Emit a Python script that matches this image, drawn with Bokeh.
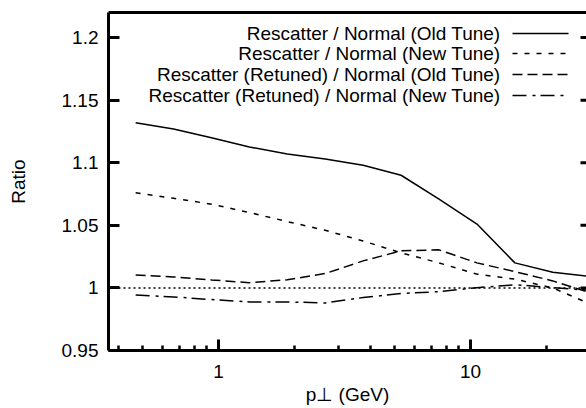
import math
from bokeh.plotting import figure
from bokeh.models import (FixedTicker, CustomJSTickFormatter, LogAxis,
                          Span, Label, Range1d)
from bokeh.embed import file_html
from bokeh.resources import INLINE

# ---- data ----
pt = [0.469, 0.663, 0.9375, 1.326, 1.875, 2.652, 3.75, 5.303, 7.5, 10.61, 15.0, 21.21, 30.0]
old_tune = [1.132, 1.127, 1.120, 1.1126, 1.107, 1.103, 1.098, 1.090, 1.071, 1.051, 1.020, 1.0125, 1.009]
new_tune = [1.076, 1.0716, 1.0669, 1.0602, 1.053, 1.046, 1.0375, 1.028, 1.020, 1.011, 1.007, 1.000, 0.987]
retuned_old = [1.0104, 1.0088, 1.0064, 1.0042, 1.0065, 1.0115, 1.0216, 1.0296, 1.0304, 1.020, 1.013, 1.0056, 0.996]
retuned_new = [0.9944, 0.9928, 0.9907, 0.9888, 0.9888, 0.988, 0.9923, 0.9955, 0.997, 1.0002, 1.0025, 1.0003, 0.998]

series_labels = ["Rescatter / Normal (Old Tune)",
                 "Rescatter / Normal (New Tune)",
                 "Rescatter (Retuned) / Normal (Old Tune)",
                 "Rescatter (Retuned) / Normal (New Tune)"]
y_ticks = [0.95, 1.0, 1.05, 1.1, 1.15, 1.2]
x_ticks = [1, 10]
x_minor = [0.4, 0.5, 0.6, 0.7, 0.8, 0.9, 2, 3, 4, 5, 6, 7, 8, 9, 20]
x_title = "p\u22a5 (GeV)"
y_title = "Ratio"

# ---- layout ----
W, H = 586, 408
FL, FR, FT, FB = 108, 586, 12, 350
XS, XE = 0.366, 28.86
YS, YE = 0.95, 1.22
FONT = "Liberation Sans"
FS = "19px"

def px_x(px):
    a, b = math.log10(XS), math.log10(XE)
    return 10 ** (a + (px - FL) / (FR - FL) * (b - a))

def px_y(py):
    return YS + (FB - py) / (FB - FT) * (YE - YS)

p = figure(width=W, height=H, x_axis_type="log",
           x_range=Range1d(XS, XE), y_range=Range1d(YS, YE),
           output_backend="svg", toolbar_location=None,
           min_border_left=FL, min_border_right=0, min_border_top=FT,
           min_border_bottom=H - FB)
p.outline_line_color = None
p.grid.visible = False
p.background_fill_color = "white"
p.border_fill_color = "white"

# bottom axis
xa = p.xaxis[0]
xa.ticker = FixedTicker(ticks=x_ticks, minor_ticks=x_minor)
xa.formatter = CustomJSTickFormatter(code="return String(tick)")
xa.axis_line_width = 3
xa.major_tick_in = 11
xa.major_tick_out = 0
xa.major_tick_line_width = 3
xa.minor_tick_in = 5
xa.minor_tick_out = 0
xa.minor_tick_line_width = 2.5
xa.major_label_standoff = 14
xa.major_label_text_font = FONT
xa.major_label_text_font_size = FS
xa.major_label_text_color = "black"
xa.axis_label = x_title
xa.axis_label_text_font = FONT
xa.axis_label_text_font_size = FS
xa.axis_label_text_font_style = "normal"
xa.axis_label_text_color = "black"
xa.axis_label_standoff = 3

# left axis
ya = p.yaxis[0]
ya.ticker = FixedTicker(ticks=y_ticks)
ya.formatter = CustomJSTickFormatter(code="return String(Math.round(tick*100)/100)")
ya.axis_line_width = 3
ya.major_tick_in = 11
ya.major_tick_out = 0
ya.major_tick_line_width = 3
ya.minor_tick_line_color = None
ya.major_label_standoff = 10
ya.major_label_text_font = FONT
ya.major_label_text_font_size = FS
ya.major_label_text_color = "black"
ya.axis_label = y_title
ya.axis_label_text_font = FONT
ya.axis_label_text_font_size = FS
ya.axis_label_text_font_style = "normal"
ya.axis_label_text_color = "black"
ya.axis_label_standoff = 30

# top frame line
top = LogAxis(ticker=FixedTicker(ticks=[]), axis_line_width=3,
              major_tick_line_color=None, minor_tick_line_color=None,
              major_label_standoff=0)
p.add_layout(top, "above")

# right side mirror ticks (frame's right edge lies just outside the window)
p.segment(x0=[px_x(580)] * len(y_ticks), y0=y_ticks,
          x1=[XE] * len(y_ticks), y1=y_ticks, line_color="black", line_width=3)

# reference line at 1
p.add_layout(Span(location=1.0, dimension="width", line_color="black",
                  line_width=1.5, line_dash="2 3"))

styles = [dict(line_dash="solid"), dict(line_dash="5 7"),
          dict(line_dash="10 5"), dict(line_dash="14 6 3 5")]
series = [old_tune, new_tune, retuned_old, retuned_new]
for ys, st in zip(series, styles):
    p.line(pt, ys, line_color="black", line_width=1.5, **st)

# key (text right-aligned, sample to the right)
rows = [33, 53, 74, 95]
for lab, st, ry in zip(series_labels, styles, rows):
    p.add_layout(Label(x=px_x(500), y=px_y(ry), text=lab, text_align="right",
                       text_baseline="middle", text_font=FONT, text_font_size=FS,
                       text_color="black"))
    p.line([px_x(512), px_x(568)], [px_y(ry), px_y(ry)], line_color="black",
           line_width=1.5, **st)

open("out.html", "w").write(file_html(p, INLINE))
